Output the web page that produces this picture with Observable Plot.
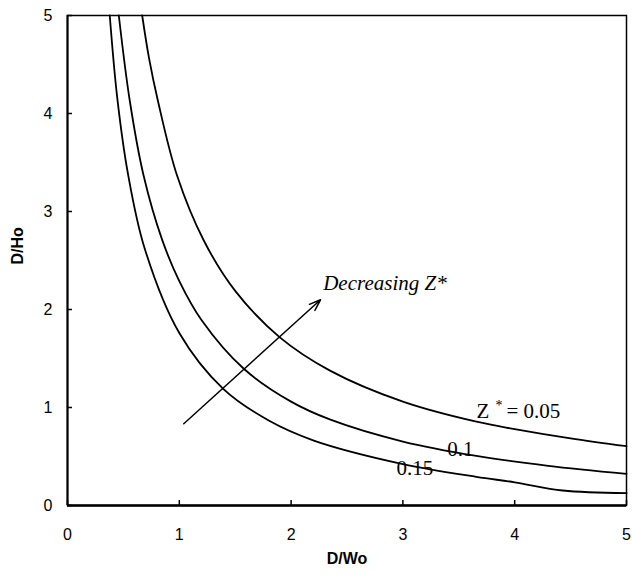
<!DOCTYPE html>
<html><head><meta charset="utf-8">
<script src="https://cdn.jsdelivr.net/npm/d3@7"></script>
<script src="https://cdn.jsdelivr.net/npm/@observablehq/plot@0.6"></script>
<style>body{margin:0;background:#fff}</style>
</head><body><div id="chart"></div>
<script>
// Curve Z* = 0.05
const x005 = [0.668, 0.73, 0.808, 0.98, 1.219, 1.5, 1.899, 2.352, 3.0, 3.658, 4.0, 4.5, 5.0];
const y005 = [5.0, 4.56, 4.133, 3.367, 2.704, 2.19, 1.716, 1.374, 1.06, 0.855, 0.78, 0.685, 0.605];
// Curve Z* = 0.1
const x010 = [0.459, 0.557, 0.68, 0.847, 1.0, 1.2, 1.577, 2.0, 2.352, 3.0, 3.658, 4.3, 5.0];
const y010 = [5.0, 4.13, 3.37, 2.71, 2.29, 1.89, 1.395, 1.06, 0.876, 0.653, 0.506, 0.405, 0.323];
// Curve Z* = 0.15
const x015 = [0.378, 0.444, 0.54, 0.691, 1.0, 1.393, 1.8, 2.203, 3.0, 3.658, 4.0, 4.43, 5.0];
const y015 = [5.0, 4.17, 3.39, 2.62, 1.76, 1.19, 0.867, 0.663, 0.423, 0.292, 0.237, 0.153, 0.126];

const xTicks = [0, 1, 2, 3, 4, 5];
const yTicks = [0, 1, 2, 3, 4, 5];

const curveLabels = [
  {x: 3.396, y: 0.571, text: "0.1"},
  {x: 2.943, y: 0.378, text: "0.15"}
];
const zLabel = {x: 3.658, y: 0.964};
const arrowData = [{x1: 1.04, y1: 0.834, x2: 2.263, y2: 2.099}];
const arrowLabel = [{x: 2.287, y: 2.265, text: "Decreasing Z*"}];

const toRows = (xs, ys) => xs.map((x, i) => ({x, y: ys[i]}));
const serif = "Liberation Serif, Times New Roman, serif";

const chart = Plot.plot({
  width: 632, height: 577,
  marginLeft: 67, marginRight: 6, marginTop: 15, marginBottom: 72,
  x: {domain: [0, 5]},
  y: {domain: [0, 5]},
  style: {fontFamily: "Liberation Sans, Arial, sans-serif", fontSize: "16px", color: "#000", background: "#fff"},
  marks: [
    Plot.frame({stroke: "#000", strokeWidth: 1.5}),
    Plot.axisX({ticks: xTicks, tickSize: -5, tickPadding: 28, tickFormat: d => d, label: null, strokeWidth: 1.5, fontSize: 16}),
    Plot.axisY({ticks: yTicks, tickSize: -5, tickPadding: 20, tickFormat: d => d, label: null, strokeWidth: 1.5, fontSize: 16}),
    Plot.ruleX([0], {stroke: "#000", strokeWidth: 2}),
    Plot.ruleY([0], {stroke: "#000", strokeWidth: 2.5}),
    Plot.line(toRows(x005, y005), {x: "x", y: "y", curve: "catmull-rom", stroke: "#000", strokeWidth: 1.8}),
    Plot.line(toRows(x010, y010), {x: "x", y: "y", curve: "catmull-rom", stroke: "#000", strokeWidth: 1.8}),
    Plot.line(toRows(x015, y015), {x: "x", y: "y", curve: "catmull-rom", stroke: "#000", strokeWidth: 1.8}),
    Plot.arrow(arrowData, {x1: "x1", y1: "y1", x2: "x2", y2: "y2", stroke: "#000", strokeWidth: 1.5, headLength: 12, headAngle: 40}),
    Plot.text(curveLabels, {x: "x", y: "y", text: "text", textAnchor: "start", fontFamily: serif, fontSize: 21}),
    Plot.text([zLabel], {x: "x", y: "y", text: () => "Z", textAnchor: "start", fontFamily: serif, fontSize: 21}),
    Plot.text([zLabel], {x: "x", y: "y", text: () => "*", textAnchor: "start", dx: 19, dy: -6, fontFamily: serif, fontSize: 14}),
    Plot.text([zLabel], {x: "x", y: "y", text: () => "= 0.05", textAnchor: "start", dx: 30, fontFamily: serif, fontSize: 21}),
    Plot.text(arrowLabel, {x: "x", y: "y", text: "text", textAnchor: "start", fontFamily: serif, fontStyle: "italic", fontSize: 21}),
    Plot.text(["D/Wo"], {text: d => d, frameAnchor: "bottom", dy: 58, fontWeight: "bold", fontSize: 16}),
    Plot.text(["D/Ho"], {text: d => d, frameAnchor: "left", dx: -50, dy: 4, rotate: -90, fontWeight: "bold", fontSize: 16})
  ]
});
document.getElementById("chart").appendChild(chart);
</script>
</body></html>
